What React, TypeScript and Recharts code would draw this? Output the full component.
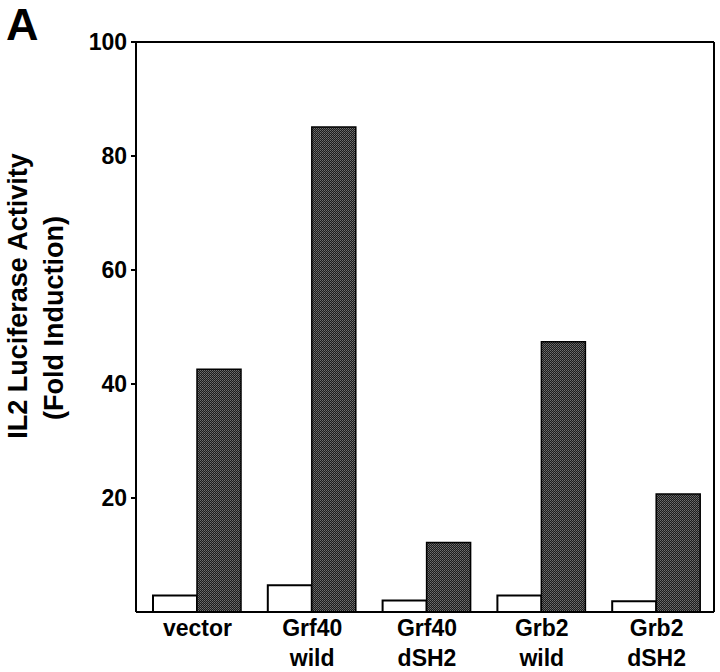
import { BarChart, Bar, XAxis, YAxis } from 'recharts';

const categories = ['vector', 'Grf40\nwild', 'Grf40\ndSH2', 'Grb2\nwild', 'Grb2\ndSH2'];
const control = [2.9, 4.7, 2.0, 2.9, 1.9];
const stimulated = [42.6, 85.1, 12.2, 47.4, 20.7];
const yTicks = [20, 40, 60, 80, 100];

const rows = categories.map((name, i) => ({ name, control: control[i], stimulated: stimulated[i] }));

const FONT = '"Liberation Sans", Arial, Helvetica, sans-serif';

function CategoryTick(props: any) {
  const { x, y, payload } = props;
  const lines = String(payload.value).split('\n');
  return (
    <g>
      {lines.map((line, i) => (
        <text
          key={i}
          x={x}
          y={y + 16 + i * 30}
          textAnchor="middle"
          fontFamily={FONT}
          fontWeight="bold"
          fontSize={23}
          fill="#000"
        >
          {line}
        </text>
      ))}
    </g>
  );
}

export default function App() {
  return (
    <div style={{ position: 'absolute', top: 0, left: 0, width: 720, height: 672, background: '#fff' }}>
      <svg width={0} height={0} style={{ position: 'absolute' }}>
        <defs>
          <pattern id="dots" width={2} height={2} patternUnits="userSpaceOnUse">
            <rect width={2} height={2} fill="#1c1c1c" />
            <rect width={1} height={1} fill="#707070" />
            <rect x={1} y={1} width={1} height={1} fill="#5a5a5a" />
          </pattern>
        </defs>
      </svg>
      <BarChart
        width={720}
        height={672}
        data={rows}
        margin={{ top: 41, right: 5, bottom: 0, left: 0 }}
        barGap={0}
        barSize={44}
      >
        <XAxis
          dataKey="name"
          height={60}
          padding={{ left: 4, right: 0 }}
          axisLine={{ stroke: '#000', strokeWidth: 2 }}
          tickLine={false}
          tick={<CategoryTick />}
          interval={0}
        />
        <XAxis xAxisId="top" orientation="top" dataKey="name" height={1} tick={false} tickLine={false}
          axisLine={{ stroke: '#000', strokeWidth: 2 }} />
        <YAxis
          width={136}
          domain={[0, 100]}
          ticks={yTicks}
          tickSize={5}
          tickMargin={4}
          axisLine={{ stroke: '#000', strokeWidth: 2 }}
          tickLine={{ stroke: '#000', strokeWidth: 2 }}
          tick={{ fontFamily: FONT, fontWeight: 'bold', fontSize: 23, fill: '#000' }}
        />
        <YAxis yAxisId="right" orientation="right" width={1} domain={[0, 100]} tick={false} tickLine={false}
          axisLine={{ stroke: '#000', strokeWidth: 2 }} />
        <Bar dataKey="control" fill="#fff" stroke="#000" strokeWidth={2} isAnimationActive={false} />
        <Bar dataKey="stimulated" fill="url(#dots)" stroke="#000" strokeWidth={1.5} isAnimationActive={false} />
      </BarChart>
      <svg width={720} height={672} style={{ position: 'absolute', top: 0, left: 0, pointerEvents: 'none' }}>
        <text x={6} y={40} fontFamily={FONT} fontWeight="bold" fontSize={45} fill="#000">A</text>
        <text
          transform="translate(27, 296) rotate(-90)"
          textAnchor="middle"
          fontFamily={FONT}
          fontWeight="bold"
          fontSize={27}
          fill="#000"
        >
          IL2 Luciferase Activity
        </text>
        <text
          transform="translate(63, 318) rotate(-90)"
          textAnchor="middle"
          fontFamily={FONT}
          fontWeight="bold"
          fontSize={27}
          fill="#000"
        >
          (Fold Induction)
        </text>
      </svg>
    </div>
  );
}
